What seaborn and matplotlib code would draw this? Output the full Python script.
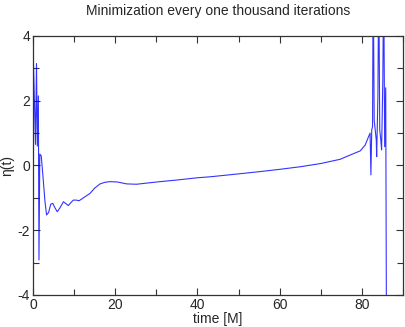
from matplotlib import pyplot as plt
from matplotlib.ticker import MultipleLocator
import pandas as pd
import seaborn as sns

# values
time_m = [0.05, 0.6, 0.85, 1.05, 1.3, 1.45, 1.65, 2.0, 2.4, 2.9, 3.3, 3.8, 4.3, 4.8,
          5.3, 5.9, 6.6, 7.4, 8.0, 8.6, 9.2, 9.8, 10.5, 11.2, 12.5, 13.9, 15.0, 16.3,
          17.5, 18.7, 20.5, 22.8, 25.2, 28.0, 30.9, 35.0, 40.0, 43.1, 50.0, 55.2, 60.0,
          65.0, 70.0, 74.7, 77.1, 79.6, 80.8, 81.5, 82.0, 82.2, 82.4, 82.6, 82.75, 83.0,
          83.5, 83.6, 83.9, 84.1, 84.35, 84.6, 84.8, 85.1, 85.3, 85.55, 85.8, 86.0]
eta = [3.47, 0.65, 3.15, 0.6, 2.15, -2.92, 0.35, 0.3, -0.3, -1.1, -1.53, -1.45, -1.2, -1.17,
       -1.3, -1.43, -1.3, -1.12, -1.18, -1.24, -1.15, -1.07, -1.07, -1.09, -0.98, -0.86, -0.7, -0.57,
       -0.52, -0.5, -0.51, -0.57, -0.58, -0.54, -0.5, -0.45, -0.38, -0.35, -0.26, -0.19, -0.12,
       -0.04, 0.06, 0.19, 0.32, 0.45, 0.63, 0.85, 1.0, -0.29, 1.1, 1.2, 6.0, 1.4,
       0.79, 0.27, 2.13, 6.0, 1.1, 0.79, 0.48, 2.64, 6.0, 0.58, 2.4, -6.0]

df = pd.DataFrame({"time": time_m, "eta": eta})

sns.set_theme(style="ticks")
plt.rcParams["font.family"] = ["Liberation Sans", "DejaVu Sans"]
plt.rcParams["axes.unicode_minus"] = False

fig = plt.figure(figsize=(4.05, 3.27), dpi=100)
ax = fig.add_axes([0.0815, 0.098, 0.9135, 0.792])
sns.lineplot(x="time", y="eta", data=df, ax=ax, sort=False, estimator=None,
             color="#0000ff", linewidth=0.8, alpha=0.8)

ax.set_xlim(0, 90)
ax.set_ylim(-4, 4)
ax.xaxis.set_major_locator(MultipleLocator(20))
ax.xaxis.set_minor_locator(MultipleLocator(10))
ax.yaxis.set_major_locator(MultipleLocator(2))
ax.yaxis.set_minor_locator(MultipleLocator(1))
ax.tick_params(which="both", direction="in", top=True, right=True, labelsize=10,
               color="#333333", width=0.8, pad=2)
ax.tick_params(which="major", length=5)
ax.tick_params(which="minor", length=4)
for sp in ax.spines.values():
    sp.set_color("#333333")
    sp.set_linewidth(0.9)

ax.set_title("Minimization every one thousand iterations", fontsize=10, pad=15)
ax.set_xlabel("time [M]", fontsize=10, labelpad=0)
ax.set_ylabel("η(t)", fontsize=10)
ax.yaxis.set_label_coords(-0.052, 0.5)

fig.savefig("out.png", dpi=100)
